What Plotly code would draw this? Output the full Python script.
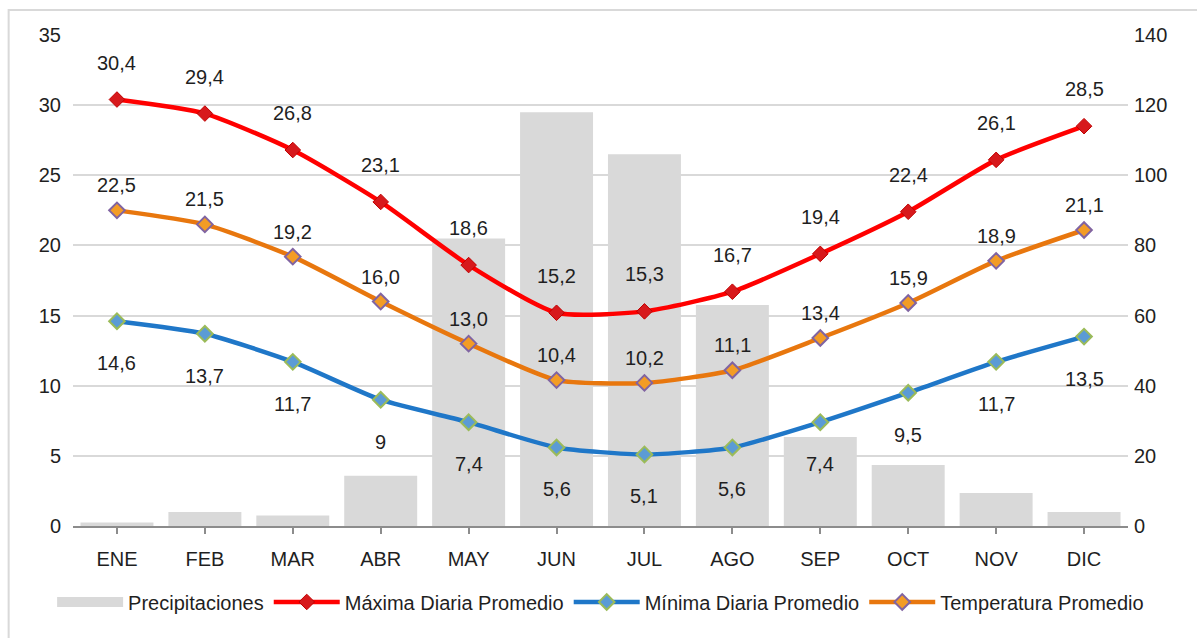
import plotly.graph_objects as go

months = ["ENE", "FEB", "MAR", "ABR", "MAY", "JUN", "JUL", "AGO", "SEP", "OCT", "NOV", "DIC"]
precip = [1, 4, 3, 14.3, 82, 118, 106, 63, 25.4, 17.4, 9.4, 4]
t_max = [30.4, 29.4, 26.8, 23.1, 18.6, 15.2, 15.3, 16.7, 19.4, 22.4, 26.1, 28.5]
t_mean = [22.5, 21.5, 19.2, 16.0, 13.0, 10.4, 10.2, 11.1, 13.4, 15.9, 18.9, 21.1]
t_min = [14.6, 13.7, 11.7, 9, 7.4, 5.6, 5.1, 5.6, 7.4, 9.5, 11.7, 13.5]
left_ticks = [0, 5, 10, 15, 20, 25, 30, 35]
right_ticks = [0, 20, 40, 60, 80, 100, 120, 140]


def fmt(v):
    if isinstance(v, int):
        return str(v)
    return ("%.1f" % v).replace(".", ",")


FONT = "Liberation Sans Narrow, Arial Narrow, Liberation Sans, Arial"
TXT = "#1f1f1f"
BAR = "#D9D9D9"

fig = go.Figure()
fig.add_trace(go.Bar(
    x=months, y=precip, name="Precipitaciones", yaxis="y", showlegend=False,
    marker=dict(color=BAR, line=dict(width=0)),
))
# legend entry for the bars (wide swatch like the original)
fig.add_trace(go.Scatter(
    x=[None], y=[None], name="Precipitaciones", mode="lines", yaxis="y",
    line=dict(color=BAR, width=20),
))
fig.add_trace(go.Scatter(
    x=months, y=t_max, name="Máxima Diaria Promedio", mode="lines+markers", yaxis="y2",
    line=dict(color="#FF0000", width=4.5, shape="spline", smoothing=0.6),
    marker=dict(symbol="diamond", size=12, color="#D7191C", line=dict(color="#C00000", width=1)),
))
fig.add_trace(go.Scatter(
    x=months, y=t_min, name="Mínima Diaria Promedio", mode="lines+markers", yaxis="y2",
    line=dict(color="#1F77C8", width=4.5, shape="spline", smoothing=0.6),
    marker=dict(symbol="diamond", size=12, color="#5B9BD5", line=dict(color="#9BBB59", width=2)),
))
fig.add_trace(go.Scatter(
    x=months, y=t_mean, name="Temperatura Promedio", mode="lines+markers", yaxis="y2",
    line=dict(color="#E8770E", width=4.5, shape="spline", smoothing=0.6),
    marker=dict(symbol="diamond", size=12, color="#F39C25", line=dict(color="#8064A2", width=2)),
))

annotations = []
for series, shift in ((t_max, 37), (t_mean, 25), (t_min, -42)):
    for m, v in zip(months, series):
        annotations.append(dict(x=m, y=v, xref="x", yref="y2", text=fmt(v), showarrow=False,
                                yshift=shift, font=dict(family=FONT, size=20, color=TXT)))

fig.update_layout(
    width=1197, height=638,
    margin=dict(l=73, r=69, t=35, b=112, autoexpand=False),
    paper_bgcolor="white", plot_bgcolor="white",
    font=dict(family=FONT, size=20, color=TXT),
    bargap=0.17,
    showlegend=True,
    legend=dict(orientation="h", x=-0.0198, y=-0.115, xanchor="left", yanchor="top",
                font=dict(family=FONT, size=20, color=TXT), itemwidth=66,
                traceorder="normal", tracegroupgap=0),
    xaxis=dict(range=[-0.5, len(months) - 0.5], showgrid=False, showline=True,
               linecolor="#8C8C8C", linewidth=2,
               ticks="outside", ticklen=6, tickcolor="#8C8C8C", tickwidth=1.5,
               ticklabelstandoff=8, tickfont=dict(size=20), automargin=False),
    yaxis=dict(range=[0, 140], tickvals=right_ticks, side="right", showgrid=True,
               gridcolor="#D9D9D9", gridwidth=2, zeroline=False, showline=False, ticks="",
               ticklabelstandoff=5, tickfont=dict(size=20), automargin=False),
    yaxis2=dict(range=[0, 35], tickvals=left_ticks, overlaying="y", side="left",
                showgrid=False, zeroline=False, showline=False, ticks="", ticklabelstandoff=11,
                tickfont=dict(size=20), automargin=False),
    annotations=annotations,
    shapes=[dict(type="rect", xref="paper", yref="paper", x0=-0.061, x1=1.2, y0=-0.5, y1=1.051,
                 line=dict(color="#D9D9D9", width=2), fillcolor="rgba(0,0,0,0)", layer="below")],
)

fig.write_html("out.html", config={"displayModeBar": False},
               post_script="document.body.style.margin='0';document.body.style.overflow='hidden';")
